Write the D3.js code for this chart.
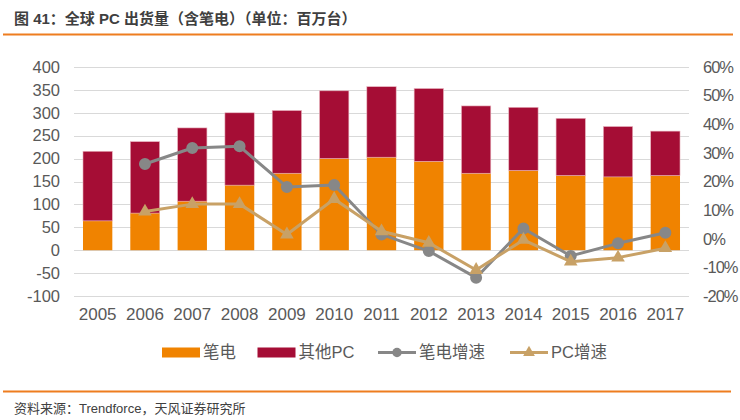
<!DOCTYPE html>
<html><head><meta charset="utf-8">
<script src="https://cdn.jsdelivr.net/npm/d3@7"></script>
<style>
html,body{margin:0;padding:0;background:#fff;}
text{font-family:"Liberation Sans","Noto Sans CJK SC",sans-serif;}
</style></head>
<body><svg id="c" width="740" height="420"></svg>
<script>
const years = ["2005","2006","2007","2008","2009","2010","2011","2012","2013","2014","2015","2016","2017"];
const notebook = [64,81,107,142,168,200,203,194,168,174,163,160,163];
const totalPC = [216,237,267,300,305,348,357,353,315,312,288,270,260];
const notebookGrowth = [null,26.1,31.7,32.3,18.1,18.8,1.5,-4.3,-13.6,3.6,-6.0,-1.6,2.1];
const pcGrowth = [null,9.5,12.1,12.1,1.5,13.9,2.6,-1.4,-10.9,-0.4,-8.0,-6.6,-3.3];
const leftTicks = [-100,-50,0,50,100,150,200,250,300,350,400];
const rightTicks = [-20,-10,0,10,20,30,40,50,60];
const seriesNames = ["笔电","其他PC","笔电增速","PC增速"];
const titleText = "图 41：全球 PC 出货量（含笔电）（单位：百万台）";
const sourceText = "资料来源：Trendforce，天风证券研究所";

const C = {orange:"#F08300", red:"#A50D35", gray:"#878787", tan:"#C8A166", grid:"#D9D9D9", text:"#595959", rule:"#EE7D1F"};
const svg = d3.select("#c");
const L=74, R=689, T=67, B=296;

const x = d3.scaleBand().domain(years).range([L,R]).paddingInner(0.38).paddingOuter(0.19);
const yL = d3.scaleLinear().domain([-100,400]).range([B,T]);
const yR = d3.scaleLinear().domain([-20,60]).range([B,T]);

// title & rules
svg.append("text").attr("x",14).attr("y",24).attr("font-size",15).attr("font-weight","bold")
  .attr("fill","#3F3F3F").text(titleText);
svg.append("line").attr("x1",3).attr("x2",733).attr("y1",34.5).attr("y2",34.5).attr("stroke",C.rule).attr("stroke-width",2);
svg.append("line").attr("x1",3).attr("x2",731).attr("y1",391.5).attr("y2",391.5).attr("stroke",C.rule).attr("stroke-width",2);
svg.append("text").attr("x",14).attr("y",413).attr("font-size",13).attr("fill","#404040").text(sourceText);

// grid
svg.append("g").selectAll("line").data(leftTicks).join("line")
  .attr("x1",L).attr("x2",R).attr("y1",d=>Math.round(yL(d))+0.5).attr("y2",d=>Math.round(yL(d))+0.5)
  .attr("stroke",C.grid).attr("stroke-width",1);

// left axis
const gl = svg.append("g").attr("transform",`translate(${L},0)`)
  .call(d3.axisLeft(yL).tickValues(leftTicks).tickFormat(d=>String(d)).tickSize(0).tickPadding(14));
gl.select(".domain").remove();
gl.selectAll("text").attr("font-size",16.5).attr("fill",C.text).attr("font-family",null);

// right axis
const gr = svg.append("g").attr("transform",`translate(${R},0)`)
  .call(d3.axisRight(yR).tickValues(rightTicks).tickFormat(d=>String(d)+"%").tickSize(0).tickPadding(14));
gr.select(".domain").remove();
gr.selectAll("text").attr("font-size",16.5).attr("fill",C.text).attr("font-family",null).attr("letter-spacing","-1px");

// x axis
const gx = svg.append("g").attr("transform",`translate(0,${B})`)
  .call(d3.axisBottom(x).tickSize(0).tickPadding(12));
gx.select(".domain").remove();
gx.selectAll("text").attr("font-size",17).attr("fill",C.text).attr("font-family",null);

// bars
const bars = svg.append("g");
bars.selectAll(".nb").data(years).join("rect")
  .attr("x",d=>x(d)).attr("width",x.bandwidth())
  .attr("y",(d,i)=>yL(notebook[i])).attr("height",(d,i)=>yL(0)-yL(notebook[i]))
  .attr("fill",C.orange);
bars.selectAll(".ot").data(years).join("rect")
  .attr("x",d=>x(d)).attr("width",x.bandwidth())
  .attr("y",(d,i)=>yL(totalPC[i])).attr("height",(d,i)=>yL(notebook[i])-yL(totalPC[i]))
  .attr("fill",C.red).attr("stroke","#E8B4BF").attr("stroke-width",0.6);

const cx = d=>x(d)+x.bandwidth()/2;
function drawLine(vals,color,marker){
  const pts = years.map((d,i)=>({x:cx(d),v:vals[i]})).filter(p=>p.v!==null);
  svg.append("path").datum(pts)
    .attr("d",d3.line().x(p=>p.x).y(p=>yR(p.v)))
    .attr("fill","none").attr("stroke",color).attr("stroke-width",3).attr("stroke-linejoin","round");
  svg.append("g").selectAll("path").data(pts).join("path")
    .attr("transform",p=>`translate(${p.x},${yR(p.v)})`)
    .attr("d",d3.symbol().type(marker).size(marker===d3.symbolCircle?113:80)())
    .attr("fill",color);
}
drawLine(notebookGrowth,C.gray,d3.symbolCircle);
drawLine(pcGrowth,C.tan,d3.symbolTriangle);

// legend
const ly = 352.5;
const lx = [162,257.5,378,510];
const lg = svg.append("g");
[0,1].forEach(i=>{
  lg.append("rect").attr("x",lx[i]).attr("y",ly-5).attr("width",38).attr("height",10).attr("fill",i===0?C.orange:C.red);
});
[2,3].forEach(i=>{
  const col = i===2?C.gray:C.tan;
  lg.append("line").attr("x1",lx[i]).attr("x2",lx[i]+38).attr("y1",ly).attr("y2",ly).attr("stroke",col).attr("stroke-width",3);
  lg.append("path").attr("transform",`translate(${lx[i]+19},${ly})`)
    .attr("d",d3.symbol().type(i===2?d3.symbolCircle:d3.symbolTriangle).size(i===2?70:60)()).attr("fill",col);
});
seriesNames.forEach((n,i)=>{
  lg.append("text").attr("x",lx[i]+41).attr("y",ly).attr("dy","0.36em").attr("font-size",16.5).attr("fill",C.text).text(n);
});
</script></body></html>
